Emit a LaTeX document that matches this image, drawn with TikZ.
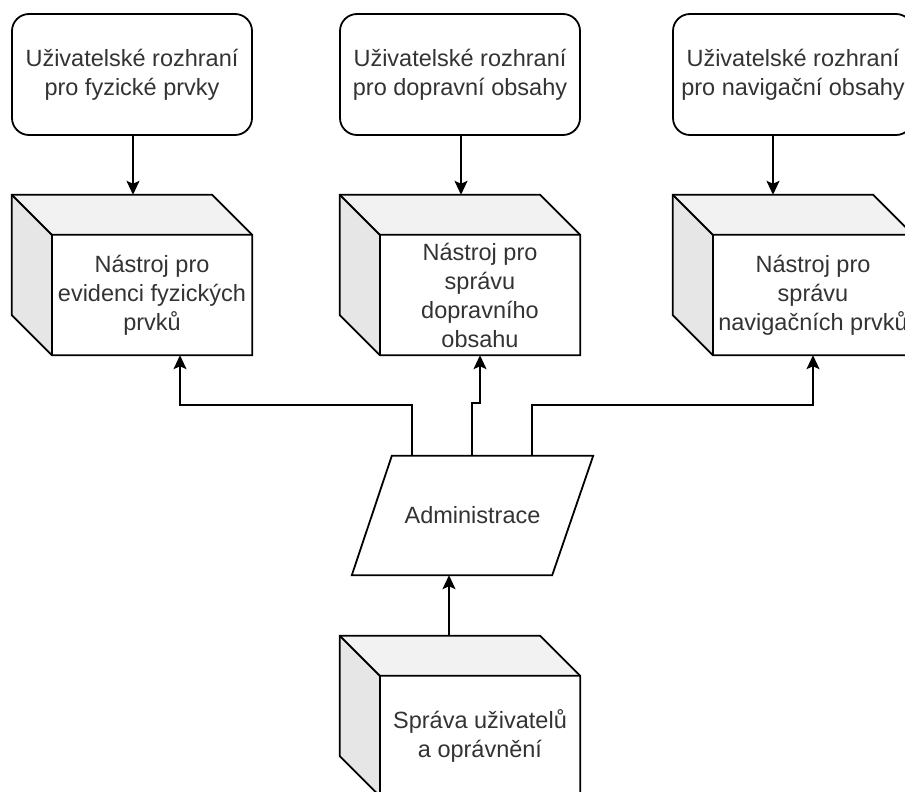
\documentclass[tikz,border=0pt]{standalone}
\usepackage{fontspec}
\setmainfont{Liberation Sans}
\usetikzlibrary{arrows.meta}
\definecolor{txtc}{HTML}{333333}
\definecolor{topface}{HTML}{F2F2F2}
\definecolor{leftface}{HTML}{E6E6E6}
\newcommand{\mycubeshape}[1]{%
  \fill[topface] (#1.north west) -- ([xshift=-40pt]#1.north east) -- ([yshift=-40pt]#1.north east) -- ([xshift=40pt,yshift=-40pt]#1.north west) -- cycle;
  \fill[leftface] (#1.north west) -- ([xshift=40pt,yshift=-40pt]#1.north west) -- ([xshift=40pt]#1.south west) -- ([yshift=40pt]#1.south west) -- cycle;
  \fill[white] ([xshift=40pt,yshift=-40pt]#1.north west) rectangle (#1.south east);
  \draw[line] (#1.north west) -- ([xshift=-40pt]#1.north east) -- ([yshift=-40pt]#1.north east) -- (#1.south east) -- ([xshift=40pt]#1.south west) -- ([yshift=40pt]#1.south west) -- cycle;
  \draw[line] (#1.north west) -- ([xshift=40pt,yshift=-40pt]#1.north west) -- ([yshift=-40pt]#1.north east);
  \draw[line] ([xshift=40pt,yshift=-40pt]#1.north west) -- ([xshift=40pt]#1.south west);
}
\begin{document}
\begin{tikzpicture}[x=1pt,y=-1pt,
  line/.style={line width=1.8pt, draw=black, line join=miter},
  arr/.style={line width=1.8pt, draw=black, -{Stealth[length=14pt,width=13pt,inset=3pt]}},
  txt/.style={text=txtc, align=center, font=\fontsize{23.5}{29}\selectfont, inner sep=0pt},
  uibox/.style={line, rounded corners=17pt, fill=white, minimum width=240pt, minimum height=121pt, txt},
  cubebox/.style={draw=none, minimum width=240pt, minimum height=160pt, inner sep=0pt},
  admbox/.style={draw=none, minimum width=241pt, minimum height=119pt, inner sep=0pt, txt}]
\clip (0,0) rectangle (905,792);
\fill[white] (0,0) rectangle (905,792);

% top interface boxes
\node[uibox] (b1) at (132,74.5) {Uživatelské rozhraní\\pro fyzické prvky};
\node[uibox] (b2) at (460,74.5) {Uživatelské rozhraní\\pro dopravní obsahy};
\node[uibox] (b3) at (793,74.5) {Uživatelské rozhraní\\pro navigační obsahy};

% cubes
\node[cubebox] (c1) at (132,275) {};
\node[cubebox] (c2) at (460,275) {};
\node[cubebox] (c3) at (793,275) {};
\node[cubebox] (c4) at (460,716) {};
\mycubeshape{c1}
\mycubeshape{c2}
\mycubeshape{c3}
\mycubeshape{c4}
\node[txt] (c1t) at ([xshift=20pt,yshift=-20pt]c1.center) {Nástroj pro\\evidenci fyzických\\prvků};
\node[txt] (c2t) at ([xshift=20pt,yshift=-20pt]c2.center) {Nástroj pro\\správu\\dopravního\\obsahu};
\node[txt] (c3t) at ([xshift=20pt,yshift=-20pt]c3.center) {Nástroj pro\\správu\\navigačních prvků};
\node[txt] (c4t) at ([xshift=20pt,yshift=-20pt]c4.center) {Správa uživatelů\\a oprávnění};

% administrace parallelogram
\node[admbox] (adm) at (472.5,515.5) {};
\draw[line, fill=white] ([xshift=40pt]adm.north west) -- (adm.north east) -- ([xshift=-41pt]adm.south east) -- (adm.south west) -- cycle;
\node[txt] (admt) at (adm.center) {Administrace};

% connectors
\draw[arr] ([xshift=1pt]b1.south) -- ([xshift=1pt]c1.north);
\draw[arr] ([xshift=1pt]b2.south) -- ([xshift=1pt]c2.north);
\draw[arr] ([xshift=-20pt]b3.south) -- ([xshift=-20pt]c3.north);
\draw[arr] ([xshift=-60.5pt]adm.north) -- ++(0,-51) -| ([xshift=48pt]c1.south);
\draw[arr] ([xshift=-0.5pt]adm.north) -- ++(0,-53) -| ([xshift=20pt]c2.south);
\draw[arr] ([xshift=59.5pt]adm.north) -- ++(0,-51) -| ([xshift=20pt]c3.south);
\draw[arr] ([xshift=-11pt]c4.north) -- ([xshift=-23.5pt]adm.south);
\end{tikzpicture}
\end{document}
